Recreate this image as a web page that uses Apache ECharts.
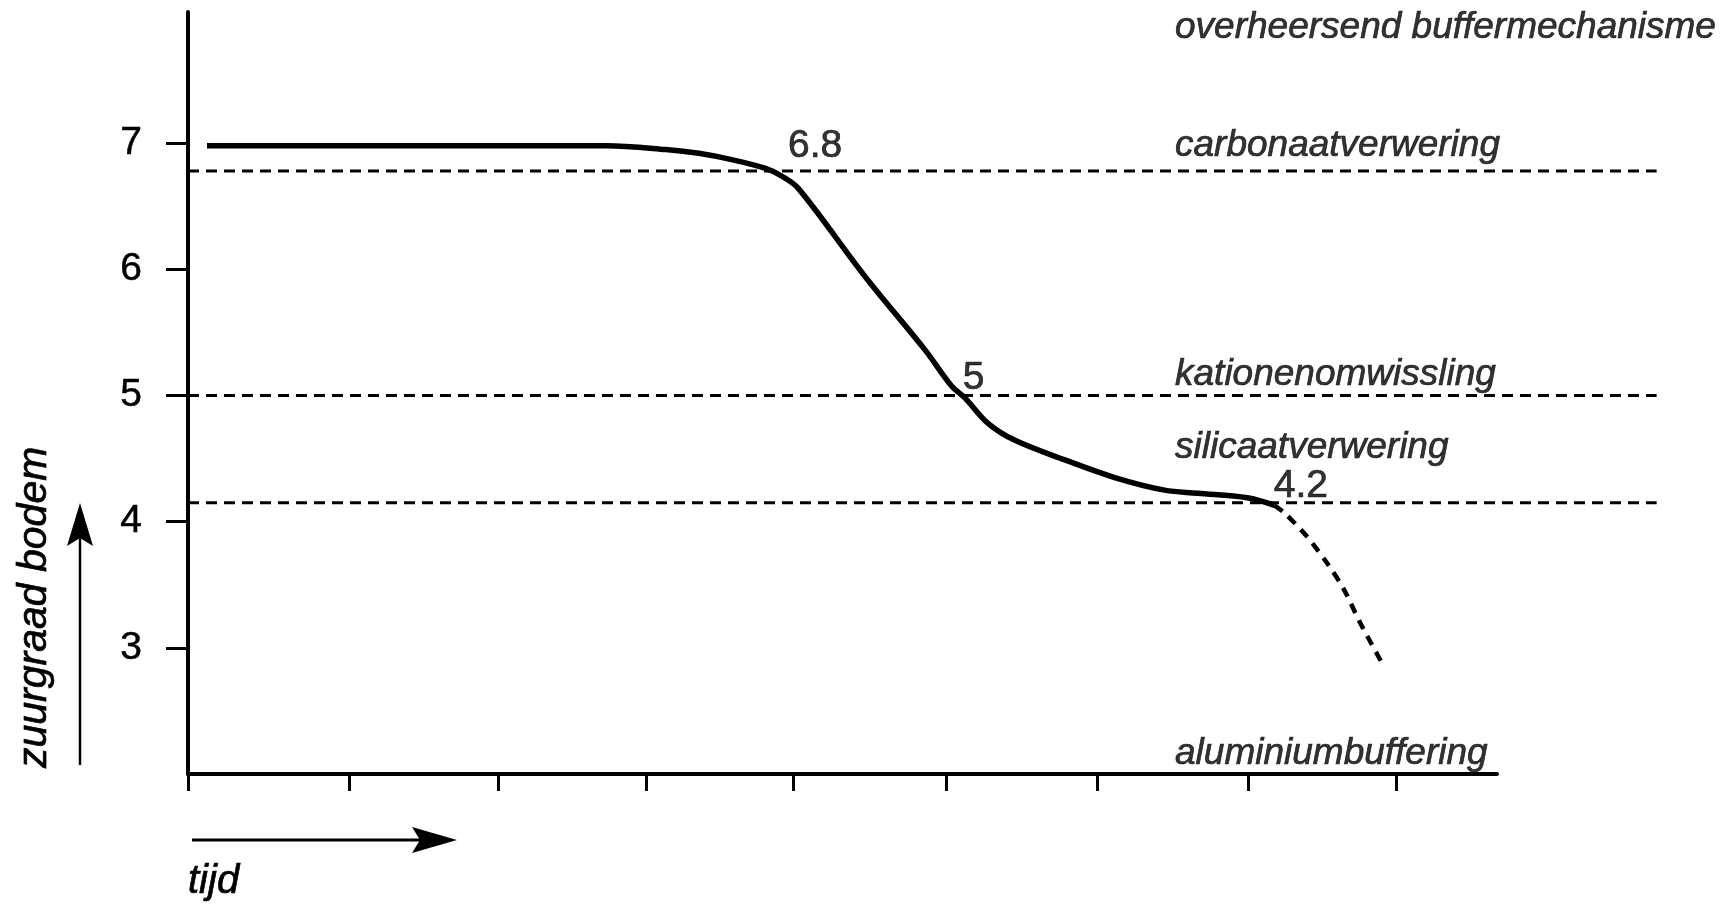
<!DOCTYPE html>
<html>
<head>
<meta charset="utf-8">
<script src="https://cdn.jsdelivr.net/npm/echarts@6/dist/echarts.min.js"></script>
<style>
html,body{margin:0;padding:0;background:#fff;}
#chart{width:1732px;height:906px;}
</style>
</head>
<body>
<div id="chart"></div>
<script>
// ---- data ----
const time = [0.126, 1.404, 2.775, 3.172, 3.391, 3.609, 3.834, 3.940, 4.053, 4.497, 4.894, 5.066, 5.159, 5.311, 5.490, 5.821, 6.152, 6.483, 6.702, 7.033, 7.212];
const ph   = [6.98, 6.98, 6.98, 6.95, 6.92, 6.87, 6.80, 6.74, 6.64, 5.94, 5.36, 5.08, 4.98, 4.78, 4.645, 4.49, 4.35, 4.25, 4.226, 4.19, 4.13];
const tailTime = [7.212, 7.278, 7.430, 7.563, 7.675, 7.781, 7.940];
const tailPh   = [4.13, 4.07, 3.88, 3.67, 3.46, 3.20, 2.85];
const bufferLevels = [6.78, 5.0, 4.15];
const levelSpan = [0, 9.75];
const yTicks = [3, 4, 5, 6, 7];
const xTicks = [0, 1.069, 2.058, 3.041, 4.016, 5.032, 6.035, 7.037, 8.02];
const mechanismTexts = ['overheersend buffermechanisme', 'carbonaatverwering', 'kationenomwissling', 'silicaatverwering', 'aluminiumbuffering'];
const mechanismAnchorX = [6.556, 6.556, 6.556, 6.556, 6.556];
const mechanismAnchorY = [7.915, 6.98, 5.16, 4.58, 2.16];
const pointTexts = ['6.8', '5', '4.2'];
const pointAnchorX = [3.987, 5.146, 7.212];
const pointAnchorY = [6.97, 5.13, 4.28];
const xTitle = 'tijd';
const yTitle = 'zuurgraad bodem';

const FONT = "'Liberation Sans', Arial, Helvetica, sans-serif";
const chart = echarts.init(document.getElementById('chart'), null, {renderer: 'canvas'});

const series = [];
bufferLevels.forEach(function (lev) {
  series.push({
    type: 'line', silent: true, symbol: 'none', xAxisIndex: 1, yAxisIndex: 1, z: 2, clip: false,
    data: [[levelSpan[0], lev], [levelSpan[1], lev]],
    lineStyle: {color: '#000', width: 3, type: [11, 7]}
  });
});
series.push({
  type: 'line', silent: true, symbol: 'none', z: 5,
  smooth: 0.35,
  data: time.map(function (t, i) { return [t, ph[i]]; }),
  lineStyle: {color: '#000', width: 5.5}
});
series.push({
  type: 'line', silent: true, symbol: 'none', z: 5,
  smooth: 0.3,
  data: tailTime.map(function (t, i) { return [t, tailPh[i]]; }),
  lineStyle: {color: '#000', width: 4.5, type: [10, 8]}
});
const labelStroke = {textBorderColor: '#000', textBorderWidth: 0.7};
series.push({
  type: 'scatter', silent: true, symbolSize: 1, z: 6, xAxisIndex: 1, yAxisIndex: 1,
  itemStyle: {color: 'transparent'},
  data: mechanismTexts.map(function (s, i) { return {value: [mechanismAnchorX[i], mechanismAnchorY[i]], name: s}; }),
  label: Object.assign({show: true, position: [0, 0], align: 'left', verticalAlign: 'middle',
    formatter: '{b}', fontFamily: FONT, fontStyle: 'italic', fontSize: 37, color: '#000'}, labelStroke)
});
series.push({
  type: 'scatter', silent: true, symbolSize: 1, z: 6, xAxisIndex: 1, yAxisIndex: 1,
  itemStyle: {color: 'transparent'},
  data: pointTexts.map(function (s, i) { return {value: [pointAnchorX[i], pointAnchorY[i]], name: s}; }),
  label: Object.assign({show: true, position: [0, 0], align: 'left', verticalAlign: 'middle',
    formatter: '{b}', fontFamily: FONT, fontSize: 39, color: '#000'}, labelStroke)
});

const option = {
  backgroundColor: '#fff',
  animation: false,
  grid: [
    {left: 188, right: 235, top: 12, bottom: 132, containLabel: false},
    {left: 188, right: 37.7, top: 12, bottom: 132, containLabel: false}
  ],
  xAxis: [{
    type: 'value', min: 0, max: 8.69, interval: 1, gridIndex: 0,
    axisLine: {show: true, lineStyle: {color: '#000', width: 4}},
    axisTick: {show: true, length: 17, lineStyle: {color: '#000', width: 3}, customValues: xTicks},
    axisLabel: {show: false},
    splitLine: {show: false}
  }, {
    type: 'value', min: 0, max: 10, gridIndex: 1, show: false
  }],
  yAxis: [{
    type: 'value', min: 2, max: 8.04, interval: 1, gridIndex: 0,
    axisLine: {show: true, lineStyle: {color: '#000', width: 4}},
    axisTick: {show: true, length: 22, lineStyle: {color: '#000', width: 3}, customValues: yTicks},
    axisLabel: Object.assign({show: true, customValues: yTicks, fontFamily: FONT, fontSize: 39, color: '#000', margin: 46}, {textBorderColor: '#000', textBorderWidth: 0.5}),
    splitLine: {show: false}
  }, {
    type: 'value', min: 2, max: 8.04, gridIndex: 1, show: false
  }],
  graphic: [
    {type: 'line', shape: {x1: 80, y1: 765, x2: 80, y2: 530}, style: {stroke: '#000', lineWidth: 2.5}},
    {type: 'polygon', shape: {points: [[80, 503], [93, 546], [80, 538], [67, 546]]}, style: {fill: '#000'}},
    {type: 'line', shape: {x1: 192, y1: 840, x2: 430, y2: 840}, style: {stroke: '#000', lineWidth: 3}},
    {type: 'polygon', shape: {points: [[457, 840], [412, 827], [420, 840], [412, 853]]}, style: {fill: '#000'}},
    {type: 'text', x: 188, y: 882, style: {text: xTitle, font: 'italic 40px ' + FONT, fill: '#000', stroke: '#000', lineWidth: 0.7, textAlign: 'left', textVerticalAlign: 'middle'}},
    {type: 'text', x: 35, y: 768, rotation: Math.PI / 2, style: {text: yTitle, font: 'italic 41px ' + FONT, fill: '#000', stroke: '#000', lineWidth: 0.7, textAlign: 'left', textVerticalAlign: 'middle'}}
  ],
  series: series
};
chart.setOption(option);
</script>
</body>
</html>
